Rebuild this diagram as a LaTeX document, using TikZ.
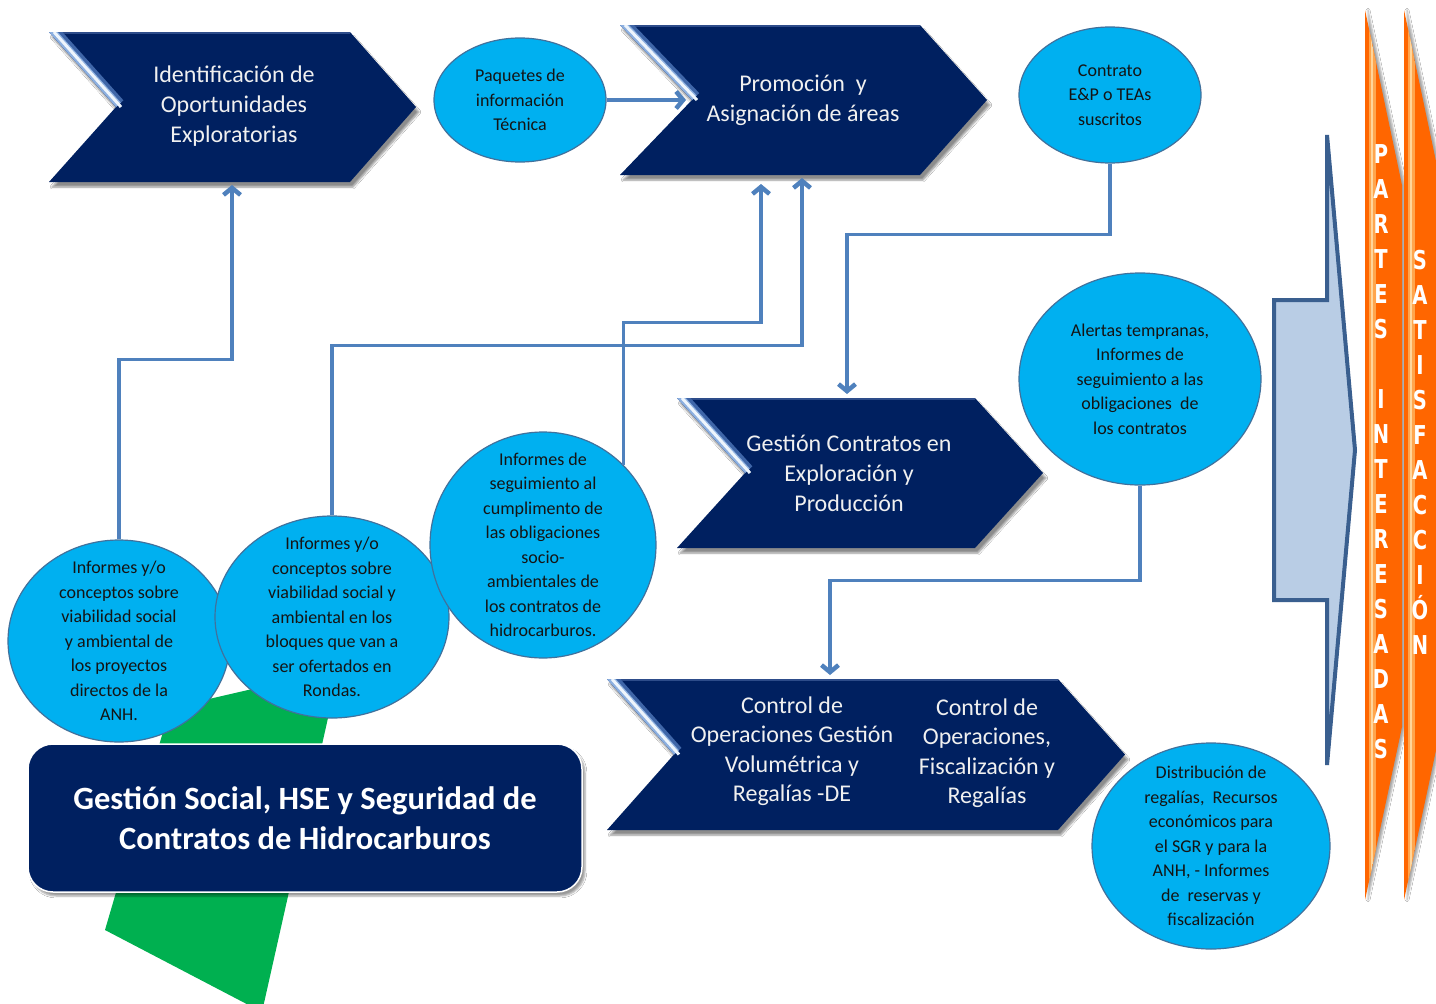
\documentclass[tikz,border=0pt]{standalone}
\usepackage{fontspec}
\setmainfont{Carlito}
\newfontfamily\letterfont{DejaVu Sans}
\usetikzlibrary{shapes.geometric,arrows.meta,shadows.blur}
\definecolor{navy}{HTML}{002060}
\definecolor{cyanb}{HTML}{00B0F0}
\definecolor{circedge}{HTML}{41719C}
\definecolor{connc}{HTML}{4F81BD}
\definecolor{grn}{HTML}{00B050}
\definecolor{orng}{HTML}{FF6600}
\definecolor{orhl}{HTML}{FFA54D}
\definecolor{orhl2}{HTML}{FFD59A}
\definecolor{lblue}{HTML}{B9CDE5}
\definecolor{ledge}{HTML}{3A5F8F}
\definecolor{hlA}{HTML}{3F66A8}
\definecolor{hlM}{HTML}{8DB0E0}
\definecolor{hlB}{HTML}{EEF5FC}
\definecolor{topl}{HTML}{2D4C8A}
\newcommand{\mychev}[6]{%
  \path[chev] (#1,#2) -- (#3,#2) -- (#5,{(#2+#4)/2}) -- (#3,#4) -- (#1,#4) -- (#6,{(#2+#4)/2}) -- cycle;
  \begin{scope}
    \clip (#1,#2) -- (#3,#2) -- (#5,{(#2+#4)/2}) -- (#3,#4) -- (#1,#4) -- (#6,{(#2+#4)/2}) -- cycle;
    \draw[topl, line width=4pt] (#1,#2) -- (#3,#2);
    \draw[hlA, line width=20pt] (#1,#2) -- (#6,{(#2+#4)/2});
    \draw[hlM, line width=13pt] (#1,#2) -- (#6,{(#2+#4)/2});
    \draw[hlB, line width=3pt] ([xshift=5pt]#1,#2) -- ([xshift=5pt]#6,{(#2+#4)/2});
  \end{scope}}
\tikzset{
  bubble/.style={ellipse, fill=cyanb, draw=circedge, line width=1.2pt, inner sep=0pt},
  btext/.style={align=center, font=\fontsize{18}{24.5}\selectfont, text=black!92, inner sep=0pt},
  chtext/.style={align=center, text=white!94!black, font=\fontsize{24}{30}\selectfont, inner sep=0pt},
  conn/.style={draw=connc, line width=3.2pt, -{Straight Barb[length=7pt,width=17pt,line width=4.5pt 0]}},
  chev/.style={fill=navy, blur shadow={shadow xshift=3pt, shadow yshift=-5pt, shadow blur steps=6, shadow opacity=45}},
  lett/.style={text=white, font=\letterfont\bfseries\fontsize{26}{26}\selectfont, inner sep=0pt, anchor=base},
}
\begin{document}
\begin{tikzpicture}[x=1pt,y=-1pt]
\useasboundingbox (0,0) rectangle (1436,1004);
\fill[white] (0,0) rectangle (1436,1004);

% green shape
\fill[grn] (170,708) -- (339,669) -- (262,1012) -- (105,930) -- cycle;

% bottom box
\node[draw=white, line width=1.5pt, fill=navy, rounded corners=25pt, minimum width=554pt, minimum height=148pt,
      blur shadow={shadow xshift=3pt, shadow yshift=-4pt, shadow opacity=40},
      align=center, text=white, font=\bfseries\fontsize{32.5}{40}\selectfont] (hse) at (305,818)
      {Gesti\'on Social, HSE y Seguridad de\\Contratos de Hidrocarburos};

% chevrons
\mychev{49}{32}{350}{182}{416}{116}
\mychev{620}{25}{920}{175}{987}{692}
\mychev{677}{398}{975}{548}{1043}{745}
\mychev{607}{679}{1058}{830}{1125}{674}

\node[chtext] (ch1) at (234,106) {Identificaci\'on de\\Oportunidades\\Exploratorias};
\node[chtext] (ch2) at (803,100) {Promoci\'on~ y\\Asignaci\'on de \'areas};
\node[chtext] (ch3) at (849,473) {Gesti\'on Contratos en\\Exploraci\'on y\\Producci\'on};
\node[chtext, font=\fontsize{24}{29.5}\selectfont] (ch4a) at (792,751) {Control de\\Operaciones Gesti\'on\\Volum\'etrica y\\Regal\'ias -DE};
\node[chtext, font=\fontsize{24}{29.5}\selectfont] (ch4b) at (987,753) {Control de\\Operaciones,\\Fiscalizaci\'on y\\Regal\'ias};

% arrow target coordinates
\coordinate (t1) at (232,185);
\coordinate (t0) at (686,100);
\coordinate (t2) at (802,178);
\coordinate (t3) at (761,184);
\coordinate (t5) at (847,394);
\coordinate (t6) at (830,675);

% bubbles
\node[bubble, minimum width=172pt, minimum height=124pt] (paq) at (520,100) {};
\node[btext] (paqt) at (paq.center) {Paquetes de\\informaci\'on\\T\'ecnica};
\node[bubble, minimum width=182pt, minimum height=136pt] (con) at (1110,95) {};
\node[btext] (cont) at (con.center) {Contrato\\E\&P o TEAs\\suscritos};
\node[bubble, minimum width=242pt, minimum height=212pt] (ale) at (1140,379) {};
\node[btext] (alet) at (ale.center) {Alertas tempranas,\\Informes de\\seguimiento a las\\obligaciones~ de\\los contratos};
\node[bubble, minimum width=222pt, minimum height=202pt] (pro) at (119,641) {};
\node[btext] (prot) at (pro.center) {Informes y/o\\conceptos sobre\\viabilidad social\\y ambiental de\\los proyectos\\directos de la\\ANH.};
\node[bubble, minimum width=234pt, minimum height=202pt] (blo) at (332,617) {};
\node[btext] (blot) at (blo.center) {Informes y/o\\conceptos sobre\\viabilidad social y\\ambiental en los\\bloques que van a\\ser ofertados en\\Rondas.};
\node[bubble, minimum width=226pt, minimum height=226pt] (seg) at (543,545) {};
\node[btext] (segt) at (seg.center) {Informes de\\seguimiento al\\cumplimento de\\las obligaciones\\socio-\\ambientales de\\los contratos de\\hidrocarburos.};
\node[bubble, minimum width=238pt, minimum height=206pt] (dis) at (1211,846) {};
\node[btext] (dist) at (dis.center) {Distribuci\'on de\\regal\'ias,~ Recursos\\econ\'omicos para\\el SGR y para la\\ANH, - Informes\\de~ reservas y\\fiscalizaci\'on};

% connectors
\draw[conn] (pro.north) -- ++(0,-180) -| (t1);
\draw[conn] (paq.east) -- (t0);
\draw[conn] (blo.north) -- ++(0,-170) -| (t2);
\draw[conn] (seg.45.6) -- ++(0,-142) -| (t3);
\draw[conn] (con.south) -- ++(0,71) -| (t5);
\draw[conn] (ale.south) -- ++(0,95) -| (t6);

% big light-blue arrow
\path[fill=lblue, draw=ledge, line width=4pt, line join=miter]
  (1274,300) -- (1327,300) -- (1327,135) -- (1355,450) -- (1327,765) -- (1327,600) -- (1274,600) -- cycle;

% orange bands
\foreach \xo in {0,39}{
  \path[fill=orng, blur shadow={shadow xshift=3pt, shadow yshift=0pt, shadow opacity=35}]
    (1365+\xo,10) -- (1402+\xo,185) -- (1402+\xo,727) -- (1365+\xo,900) -- cycle;
  \begin{scope}
    \clip (1365+\xo,10) -- (1402+\xo,185) -- (1402+\xo,727) -- (1365+\xo,900) -- cycle;
    \draw[orhl, line width=7pt] (1372+\xo,0) -- (1372+\xo,910);
    \draw[orhl2, line width=2pt] (1372+\xo,0) -- (1372+\xo,910);
  \end{scope}
}

% letters
\foreach \ch/\k in {P/0,A/1,R/2,T/3,E/4,S/5,I/7,N/8,T/9,E/10,R/11,E/12,S/13,A/14,D/15,A/16,S/17}
  \node[lett] (pl\k) at (1381,{163+35*\k}) {\scalebox{0.75}[1]{\ch}};
\foreach \ch/\k in {S/0,A/1,T/2,I/3,S/4,F/5,A/6,C/7,C/8,I/9,\'O/10,N/11}
  \node[lett] (sl\k) at (1420,{269+35*\k}) {\scalebox{0.75}[1]{\ch}};
\end{tikzpicture}
\end{document}
